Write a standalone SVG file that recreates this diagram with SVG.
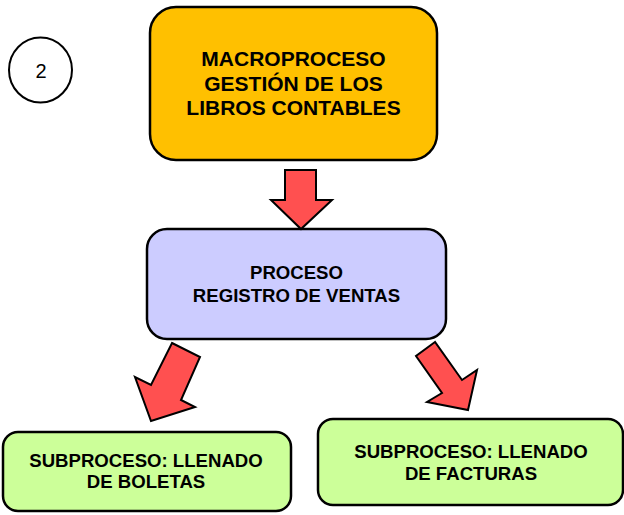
<svg xmlns="http://www.w3.org/2000/svg" width="624" height="515" viewBox="0 0 624 515">
<style>
.box{stroke:#000;stroke-width:2.5}
.arr{fill:#FF5050;stroke:#000;stroke-width:2;stroke-linejoin:miter}
.t{font-family:"Liberation Sans",Arial,sans-serif;font-weight:bold;fill:#000;text-anchor:middle}
</style>
<rect width="624" height="515" fill="#fff"/>
<g id="badge">
<ellipse cx="40.5" cy="70" rx="31.5" ry="32.5" fill="#fff" stroke="#000" stroke-width="2"/>
<text x="41" y="77.5" font-family="Liberation Sans,Arial,sans-serif" font-size="20" text-anchor="middle">2</text>
</g>
<g id="macro">
<rect class="box" x="150" y="7" width="287" height="153" rx="26" fill="#FFC000"/>
<text class="t" font-size="21"><tspan x="293.5" y="66">MACROPROCESO</tspan><tspan x="293.5" y="90.5">GESTIÓN DE LOS</tspan><tspan x="293.5" y="115">LIBROS CONTABLES</tspan></text>
</g>
<g id="proceso">
<rect class="box" x="147" y="229" width="299" height="110" rx="20" fill="#CCCCFF"/>
<text class="t" font-size="18.6"><tspan x="296.5" y="279">PROCESO</tspan><tspan x="296.5" y="302">REGISTRO DE VENTAS</tspan></text>
</g>
<g id="boletas">
<rect class="box" x="3" y="432" width="288" height="79" rx="15" fill="#CCFF99"/>
<text class="t" font-size="18.6"><tspan x="146" y="467">SUBPROCESO: LLENADO</tspan><tspan x="146" y="488">DE BOLETAS</tspan></text>
</g>
<g id="facturas">
<rect class="box" x="318" y="419" width="305" height="86" rx="15" fill="#CCFF99"/>
<text class="t" font-size="18.6"><tspan x="471" y="458">SUBPROCESO: LLENADO</tspan><tspan x="471" y="480">DE FACTURAS</tspan></text>
</g>
<g id="connectors">
<polygon class="arr" points="285,170 316,170 316,200 332,200 301,229 271,200 285,200"/>
<polygon class="arr" points="172,343 200,357 181,400 195,407 151,421 135,377 151,385"/>
<polygon class="arr" points="435,342 416,356 442,393 427,402 468,410 477,370 462,380"/>
</g>
</svg>
